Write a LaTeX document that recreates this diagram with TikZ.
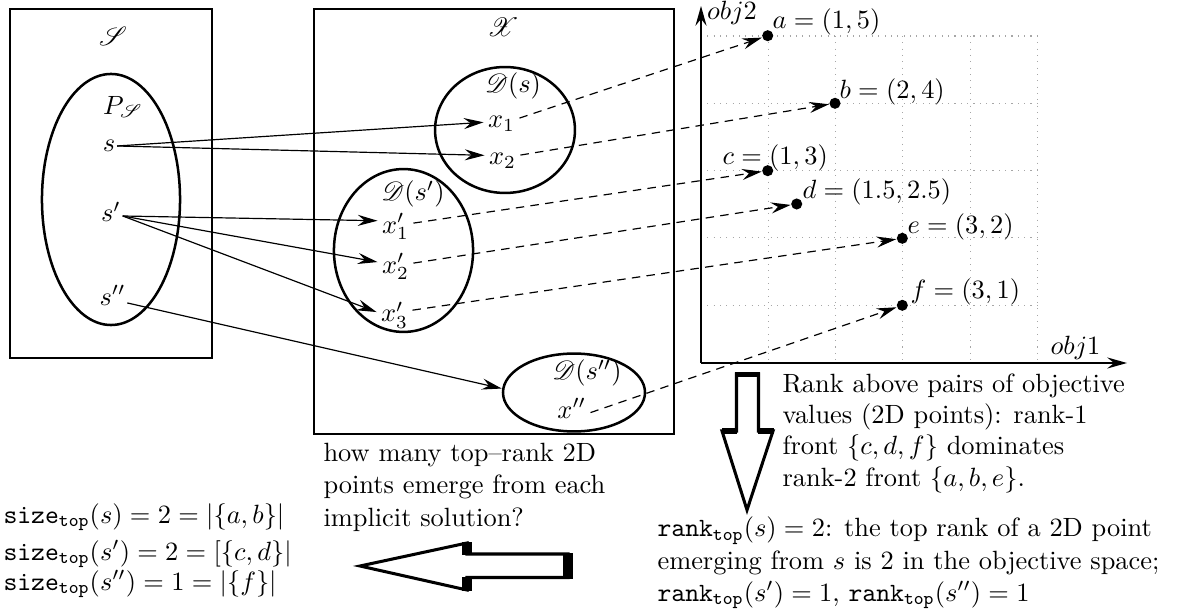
\documentclass[tikz,border=0pt]{standalone}
\usepackage{amsmath}
\usepackage{mathrsfs}
\usetikzlibrary{arrows.meta,shapes.geometric}
\begin{document}
\begin{tikzpicture}[x=0.3788pt,y=-0.3788pt,
  lbl/.style={inner sep=0pt},
  xn/.style={inner sep=1.5pt, anchor=mid},
  sn/.style={inner sep=0.5pt, anchor=mid},
  txt/.style={inner sep=0pt, anchor=base west},
  frame/.style={draw, line width=0.8pt},
  setel/.style={draw, ellipse, line width=0.95pt, inner sep=0pt},
  conn/.style={line width=0.45pt, -{Stealth[length=7.5pt,width=4.2pt,inset=2.6pt]}},
  dconn/.style={conn, dash pattern=on 3.2pt off 2.4pt},
  gridline/.style={gray!70, dotted, line width=0.4pt},
  axisline/.style={line width=0.6pt, -{Stealth[length=7.5pt,width=4.2pt,inset=2.6pt]}},
  dot/.style={circle, fill=black, inner sep=0pt, minimum size=4.2pt},
  ptlbl/.style={inner sep=0pt, anchor=west},
  bigarrow/.style={draw, line width=1.15pt, fill=white, line join=miter},
  bigbar/.style={fill=black},
]
\useasboundingbox (0,0) rectangle (1184,614);

% ---------- left frame
\draw[frame] (10,9) rectangle (212,358);
\node[lbl] (Slab) at (113,36) {$\mathscr{S}$};
\node[setel, minimum width=52.3pt, minimum height=95.1pt] (PSel) at (111,199.5) {};
\node[lbl] (PS) at (123,107) {$P_{\mathscr{S}}$};
\node[sn] (s) at (109,146) {$s$};
\node[sn] (sp) at (111,216) {$s'$};
\node[sn] (spp) at (112.5,299.5) {$s''$};

% ---------- middle frame
\draw[frame] (314,9) rectangle (674,434);
\node[lbl] (Xlab) at (503,27) {$\mathscr{X}$};
\node[setel, minimum width=53pt, minimum height=47.7pt] (Ds) at (505,130) {};
\node[lbl] (Dslab) at (513,86) {$\mathscr{D}(s)$};
\node[xn] (x1) at (501.5,122.3) {$x_1$};
\node[xn] (x2) at (502.5,159.3) {$x_2$};
\node[setel, minimum width=52.7pt, minimum height=61.7pt] (Dsp) at (403.5,250.5) {};
\node[lbl] (Dsplab) at (413,194) {$\mathscr{D}(s')$};
\node[xn] (x1p) at (395.5,227.6) {$x'_1$};
\node[xn] (x2p) at (395.5,267.6) {$x'_2$};
\node[xn] (x3p) at (394.5,316) {$x'_3$};
\node[setel, minimum width=53.8pt, minimum height=29.5pt] (Dspp) at (574,392.5) {};
\node[lbl] (Dspplab) at (587,373) {$\mathscr{D}(s'')$};
\node[xn] (xpp) at (571.7,412.6) {$x''$};

% ---------- objective space
\foreach \gx in {768.3,835.6,902.9,970.2,1037.5}
  \draw[gridline] (\gx,36) -- (\gx,363);
\foreach \gy in {36,103.3,170.6,237.9,305.2}
  \draw[gridline] (701,\gy) -- (1037.5,\gy);
\coordinate (O) at (701,363);
\coordinate (ytop) at (701,6);
\coordinate (xend) at (1127,363);
\draw[axisline] (O) -- (ytop);
\draw[axisline] (O) -- (xend);
\node[lbl, anchor=base] (obj2) at (732,20) {$obj2$};
\node[lbl, anchor=base] (obj1) at (1075.5,355) {$obj1$};

\node[dot] (a) at (767.7,35.7) {};
\node[dot] (b) at (835,103.3) {};
\node[dot] (c) at (767.7,170.7) {};
\node[dot] (d) at (796.7,204) {};
\node[dot] (e) at (902.3,238.3) {};
\node[dot] (f) at (902.3,305.3) {};
\node[ptlbl] (alab) at (772,21.5) {$a=(1,5)$};
\node[ptlbl] (blab) at (839,91.5) {$b=(2,4)$};
\node[ptlbl] (clab) at (722,158) {$c=(1,3)$};
\node[ptlbl] (dlab) at (802,192) {$d=(1.5,2.5)$};
\node[ptlbl] (elab) at (907,227) {$e=(3,2)$};
\node[ptlbl] (flab) at (910,292) {$f=(3,1)$};

% ---------- solid connectors
\draw[conn] (s.mid east) -- (x1.mid west);
\draw[conn] (s.mid east) -- ([yshift=1.5pt]x2.mid west);
\draw[conn] (sp.mid east) -- ([yshift=2.6pt]x1p.mid west);
\draw[conn] (sp.mid east) -- ([yshift=2.1pt]x2p.mid west);
\draw[conn] (sp.mid east) -- ([yshift=1.5pt]x3p.mid west);
\draw[conn] ([yshift=-1.3pt]spp.mid east) -- ([yshift=1.5pt]Dspp.west);

% ---------- dashed connectors
\draw[dconn] ([yshift=1.6pt]x1.mid east) -- (a);
\draw[dconn] ([yshift=1.6pt]x2.mid east) -- (b);
\draw[dconn] ([yshift=1.7pt]x1p.mid east) -- (c);
\draw[dconn] ([yshift=1.7pt]x2p.mid east) -- (d);
\draw[dconn] ([yshift=2.2pt]x3p.mid east) -- (e);
\draw[dconn] (xpp.mid east) -- (f);

% ---------- big down arrow
\draw[bigarrow] (736.5,374) -- (736.5,431) -- (722,431) -- (747,510) -- (773,431) -- (758.5,431) -- (758.5,374) -- cycle;
\fill[bigbar] (735,372) rectangle (760,377);
\fill[bigbar] (721.5,428) rectangle (737,434);
\fill[bigbar] (758,428) rectangle (773.5,434);

% ---------- big left arrow
\draw[bigarrow] (568,554) -- (467,554) -- (467,543) -- (360,566) -- (467,590) -- (467,577.5) -- (568,577.5) -- cycle;
\fill[bigbar] (563,552.5) rectangle (573,579);
\fill[bigbar] (462,542) rectangle (472,555);
\fill[bigbar] (462,577) rectangle (472,591);

% ---------- texts
\node[txt] (r1) at (782,393) {Rank above pairs of objective};
\node[txt] (r2) at (782,424) {values (2D points): rank-1};
\node[txt] (r3) at (782,455) {front $\{c,d,f\}$ dominates};
\node[txt] (r4) at (782,487) {rank-2 front $\{a,b,e\}$.};

\node[txt] (h1) at (323,462) {how many top--rank 2D};
\node[txt] (h2) at (323,494) {points emerge from each};
\node[txt] (h3) at (323,526) {implicit solution?};

\node[txt] (z1) at (3,523) {$\mathtt{size}_{\mathtt{top}}(s)=2=|\{a,b\}|$};
\node[txt] (z2) at (3,560) {$\mathtt{size}_{\mathtt{top}}(s')=2=[\{c,d\}|$};
\node[txt] (z3) at (3,590) {$\mathtt{size}_{\mathtt{top}}(s'')=1=|\{f\}|$};

\node[txt] (k1) at (657,537) {$\mathtt{rank}_{\mathtt{top}}(s)=2$: the top rank of a 2D point};
\node[txt] (k2) at (657,569.5) {emerging from $s$ is 2 in the objective space;};
\node[txt] (k3) at (657,601) {$\mathtt{rank}_{\mathtt{top}}(s')=1$, $\mathtt{rank}_{\mathtt{top}}(s'')=1$};
\end{tikzpicture}
\end{document}
